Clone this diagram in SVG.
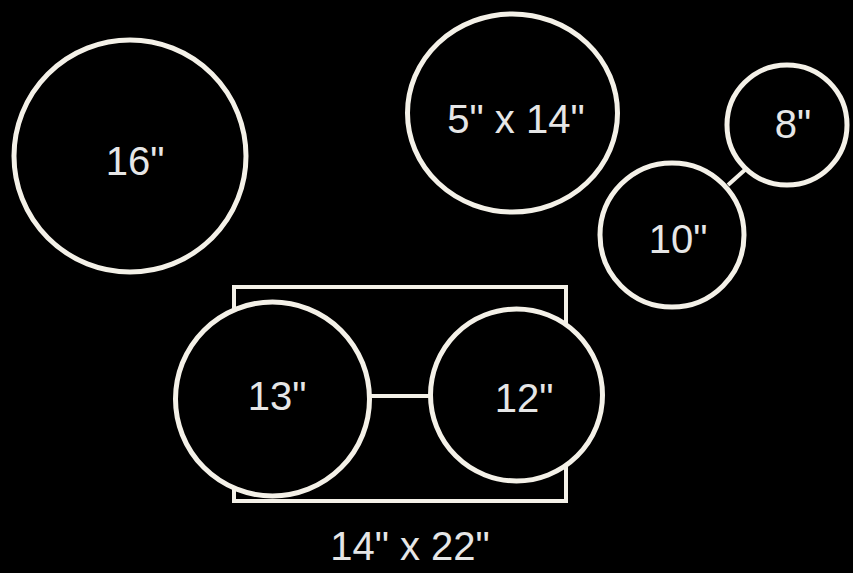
<svg xmlns="http://www.w3.org/2000/svg" width="853" height="573" viewBox="0 0 853 573">
<style>
.ring{fill:#000;stroke:#f4f1e8;stroke-width:5}
.frame{fill:none;stroke:#f4f1e8;stroke-width:4}
.link{stroke:#f4f1e8;stroke-width:4;fill:none}
.lbl{font-family:"Liberation Sans",Arial,sans-serif;font-size:40px;fill:#e6e6e6;text-anchor:middle}
</style>
<rect width="853" height="573" fill="#000"/>
<g id="frame-14x22">
<rect class="frame" x="234" y="287" width="332" height="214"/>
<text class="lbl" x="410" y="560">14" x 22"</text>
</g>
<g id="connectors">
<line class="link" x1="370" y1="396" x2="432" y2="396"/>
<line class="link" x1="728" y1="185" x2="747" y2="168"/>
</g>
<g id="node-16">
<circle class="ring" cx="130" cy="156" r="116"/>
<text class="lbl" x="135" y="175">16"</text>
</g>
<g id="node-5x14">
<ellipse class="ring" cx="512.5" cy="113" rx="105" ry="99"/>
<text class="lbl" x="516" y="133">5" x 14"</text>
</g>
<g id="node-8">
<circle class="ring" cx="787" cy="125" r="60"/>
<text class="lbl" x="793" y="138">8"</text>
</g>
<g id="node-10">
<circle class="ring" cx="672" cy="235" r="72"/>
<text class="lbl" x="678" y="253">10"</text>
</g>
<g id="node-13">
<circle class="ring" cx="272.5" cy="399" r="97"/>
<text class="lbl" x="277" y="410">13"</text>
</g>
<g id="node-12">
<circle class="ring" cx="516.5" cy="395" r="86"/>
<text class="lbl" x="524" y="412">12"</text>
</g>
</svg>
